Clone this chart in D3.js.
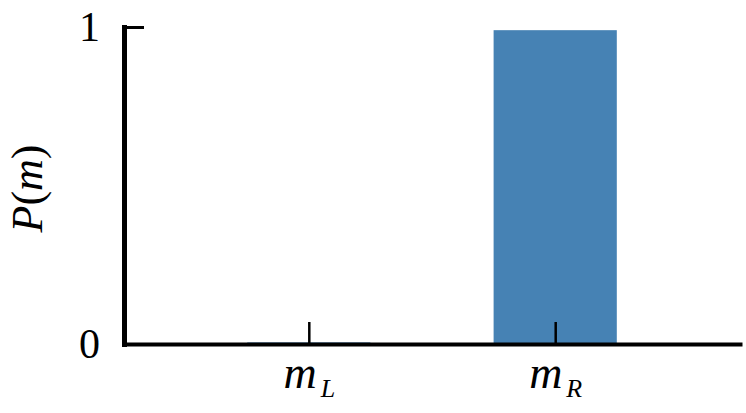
<!DOCTYPE html>
<html>
<head>
<meta charset="utf-8">
<script src="https://cdn.jsdelivr.net/npm/d3@7"></script>
<style>
  body { margin: 0; background: #fff; }
</style>
</head>
<body>
<div id="chart"></div>
<script>
// data
const categories = ["L", "R"];          // subscripts of m
const probs = [0.005, 0.99];            // P(m)
const yTicks = [0, 1];

document.addEventListener("DOMContentLoaded", function () {
    let width = 746, height = 413, margin = { top: 27, right: 6, bottom: 69, left: 124 };
    const serif = "Liberation Serif";

    let svg = d3.select("#chart")
        .append("svg")
        .attr("width", width)
        .attr("height", height)
        .append("g")
        .attr("transform", `translate(${margin.left},${margin.top})`);

    let w = width - margin.left - margin.right, h = height - margin.top - margin.bottom;

    let x = d3.scalePoint().domain(categories).range([0, w]).padding(0.75);
    let y = d3.scaleLinear().domain([0, 1]).range([h, 0]);
    let barW = x.step() * 0.5;

    // bars
    svg.selectAll(".bar")
        .data(probs)
        .enter()
        .append("rect")
        .attr("x", (d, i) => x(categories[i]) - barW / 2)
        .attr("y", d => y(d))
        .attr("width", barW)
        .attr("height", d => h - y(d))
        .attr("fill", "steelblue");

    // y axis
    let yAxis = svg.append("g")
        .call(d3.axisLeft(y).tickValues(yTicks).tickFormat(d3.format("d")).tickSize(-20).tickSizeOuter(0).tickPadding(24));
    yAxis.attr("font-family", serif).attr("font-size", 42);
    yAxis.select(".domain").attr("stroke-width", 5).attr("stroke-linecap", "square");
    yAxis.selectAll(".tick line").attr("stroke-width", 3);
    yAxis.selectAll(".tick text").attr("fill", "#000");

    // x axis
    let xAxis = svg.append("g")
        .attr("transform", `translate(0,${h})`)
        .call(d3.axisBottom(x).tickSize(-22).tickSizeOuter(0).tickFormat(""));
    xAxis.attr("font-family", serif).attr("font-size", 46);
    xAxis.select(".domain").attr("stroke-width", 4).attr("stroke-linecap", "square");
    xAxis.selectAll(".tick line").attr("stroke-width", 2.5);

    // x labels m_L, m_R
    let lab = xAxis.selectAll(".tick")
        .append("text")
        .attr("y", 44)
        .attr("text-anchor", "middle")
        .attr("fill", "#000")
        .attr("font-style", "italic");
    lab.append("tspan").text("m");
    lab.append("tspan")
        .attr("dy", 9)
        .attr("dx", 4)
        .attr("font-size", 26)
        .text(d => d);

    // y label
    svg.append("text")
        .attr("transform", `translate(${42 - margin.left},${(h / 2) + 3}) rotate(-90)`)
        .attr("text-anchor", "middle")
        .attr("font-family", serif)
        .attr("font-size", 44)
        .attr("fill", "#000")
        .html('<tspan font-style="italic">P</tspan>(<tspan font-style="italic">m</tspan>)');
});
</script>
</body>
</html>
